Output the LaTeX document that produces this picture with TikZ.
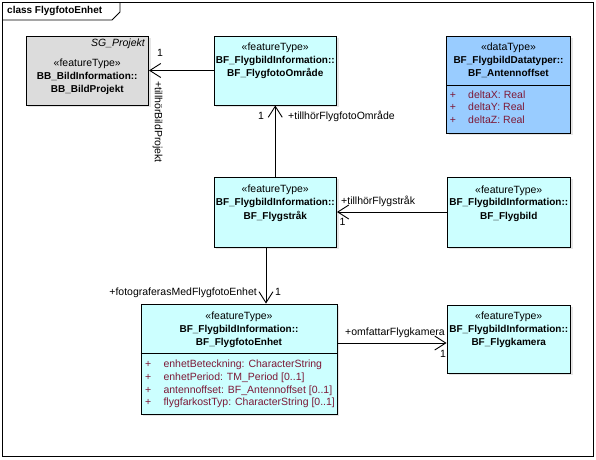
\documentclass[tikz,border=0pt]{standalone}
\usepackage{fontspec}
\setmainfont{Liberation Sans}
\usetikzlibrary{arrows.meta,shadows}
\definecolor{cyanfill}{RGB}{204,255,255}
\definecolor{grayfill}{RGB}{220,220,220}
\definecolor{bluefill}{RGB}{153,204,255}
\definecolor{attrcol}{RGB}{125,25,55}
\begin{document}
\begin{tikzpicture}[x=1pt,y=-1pt,
  cls/.style={draw=black, line width=0.9pt, inner sep=0pt, rectangle,
    drop shadow={shadow xshift=2pt, shadow yshift=-2pt, fill=black!10, opacity=1}},
  txt/.style={font=\fontsize{10.5}{12}\selectfont, inner sep=0pt, text height=7.5pt, text depth=2.2pt},
  btxt/.style={font=\bfseries\fontsize{10}{12}\selectfont, inner sep=0pt, text height=7.5pt, text depth=2.2pt},
  attr/.style={txt, text=attrcol, anchor=west},
  assoc/.style={line width=0.9pt, -{Straight Barb[length=11pt,width=14pt,line width=0.9pt]}},
  edge/.style={line width=0.9pt}]
\useasboundingbox (0,0) rectangle (596,459);
% frame
\draw[edge] (2,2) rectangle (593,456.5);
\draw[edge] (2,20) -- (112,20) -- (120,12) -- (120,2);
\node[btxt, anchor=west] (title) at (7,11) {class FlygfotoEnhet};

% boxes
\node[cls, fill=grayfill, minimum width=122.5pt, minimum height=69pt] (proj) at (87.25,70.5) {};
\node[cls, fill=cyanfill, minimum width=122.5pt, minimum height=69pt] (omr) at (275.25,70.5) {};
\node[cls, fill=bluefill, minimum width=124pt, minimum height=97pt] (ant) at (508.5,84.5) {};
\node[cls, fill=cyanfill, minimum width=122.5pt, minimum height=70pt] (str) at (275.25,212) {};
\node[cls, fill=cyanfill, minimum width=123.5pt, minimum height=70pt] (bild) at (508.75,212) {};
\node[cls, fill=cyanfill, minimum width=196pt, minimum height=110pt] (enh) at (239,359) {};
\node[cls, fill=cyanfill, minimum width=123.5pt, minimum height=68pt] (kam) at (508.75,339) {};

% compartments
\draw[edge] (ant.west |- 0,85) -- (ant.east |- 0,85);
\draw[edge] (enh.west |- 0,353) -- (enh.east |- 0,353);

% proj text
\node[txt, anchor=east] (projs) at (145,44.3) {\itshape SG\_Projekt};
\node[txt] (projt1) at (87.25,63.5) {«featureType»};
\node[btxt] (projt2) at (87.25,76.7) {BB\_BildInformation::};
\node[btxt] (projt3) at (87.25,89.5) {BB\_BildProjekt};

% omr text
\node[txt] (omrt1) at (275.25,47.5) {«featureType»};
\node[btxt] (omrt2) at (275.25,61) {BF\_FlygbildInformation::};
\node[btxt] (omrt3) at (275.25,74) {BF\_FlygfotoOmråde};

% ant text
\node[txt] (antt1) at (508.5,48.3) {«dataType»};
\node[btxt] (antt2) at (508.5,61) {BF\_FlygbildDatatyper::};
\node[btxt] (antt3) at (508.5,73.5) {BF\_Antennoffset};
\node[txt, text=attrcol] (antp1) at (453,96) {+};
\node[attr] (anta1) at (468,96) {deltaX: Real};
\node[txt, text=attrcol] (antp2) at (453,108.3) {+};
\node[attr] (anta2) at (468,108.3) {deltaY: Real};
\node[txt, text=attrcol] (antp3) at (453,120.7) {+};
\node[attr] (anta3) at (468,120.7) {deltaZ: Real};

% str text
\node[txt] (strt1) at (275.25,190) {«featureType»};
\node[btxt] (strt2) at (275.25,203.3) {BF\_FlygbildInformation::};
\node[btxt] (strt3) at (275.25,216.5) {BF\_Flygstråk};

% bild text
\node[txt] (bildt1) at (508.75,190.5) {«featureType»};
\node[btxt] (bildt2) at (508.75,203.3) {BF\_FlygbildInformation::};
\node[btxt] (bildt3) at (508.75,216.5) {BF\_Flygbild};

% enh text
\node[txt] (enht1) at (239,316.7) {«featureType»};
\node[btxt] (enht2) at (239,330) {BF\_FlygbildInformation::};
\node[btxt] (enht3) at (239,342.7) {BF\_FlygfotoEnhet};
\node[txt, text=attrcol] (enhp1) at (148.3,365) {+};
\node[attr] (enha1) at (163.3,365) {enhetBeteckning: CharacterString};
\node[txt, text=attrcol] (enhp2) at (148.3,378.3) {+};
\node[attr] (enha2) at (163.3,378.3) {enhetPeriod: TM\_Period [0..1]};
\node[txt, text=attrcol] (enhp3) at (148.3,390.7) {+};
\node[attr] (enha3) at (163.3,390.7) {antennoffset: BF\_Antennoffset [0..1]};
\node[txt, text=attrcol] (enhp4) at (148.3,403.3) {+};
\node[attr] (enha4) at (163.3,403.3) {flygfarkostTyp: CharacterString [0..1]};

% kam text
\node[txt] (kamt1) at (508.75,316.7) {«featureType»};
\node[btxt] (kamt2) at (508.75,330) {BF\_FlygbildInformation::};
\node[btxt] (kamt3) at (508.75,343.3) {BF\_Flygkamera};

% connectors
\draw[assoc] (omr.west) -- (omr.west -| proj.east);
\draw[assoc] (str.north) -- (omr.south);
\draw[assoc] (bild.west) -- (bild.west -| str.east);
\coordinate (strOut) at ([xshift=-9.25pt]str.south);
\draw[assoc] (strOut) -- (strOut |- enh.north);
\coordinate (kamIn) at ([yshift=-4pt]kam.west);
\draw[assoc] (kamIn -| enh.east) -- (kamIn);

% labels
\node[txt] (l1) at (160,54) {1};
\node[txt, rotate=-90] (l2) at (157.5,122) {+tillhörBildProjekt};
\node[txt] (l3) at (261,116.5) {1};
\node[txt, anchor=west] (l4) at (288,117) {+tillhörFlygfotoOmråde};
\node[txt, anchor=west] (l5) at (341,201.5) {+tillhörFlygstråk};
\node[txt] (l6) at (342.5,223) {1};
\node[txt, anchor=east] (l7) at (257,293) {+fotograferasMedFlygfotoEnhet};
\node[txt] (l8) at (278,293) {1};
\node[txt, anchor=west] (l9) at (345,332.5) {+omfattarFlygkamera};
\node[txt] (l10) at (443,355) {1};
\end{tikzpicture}
\end{document}
